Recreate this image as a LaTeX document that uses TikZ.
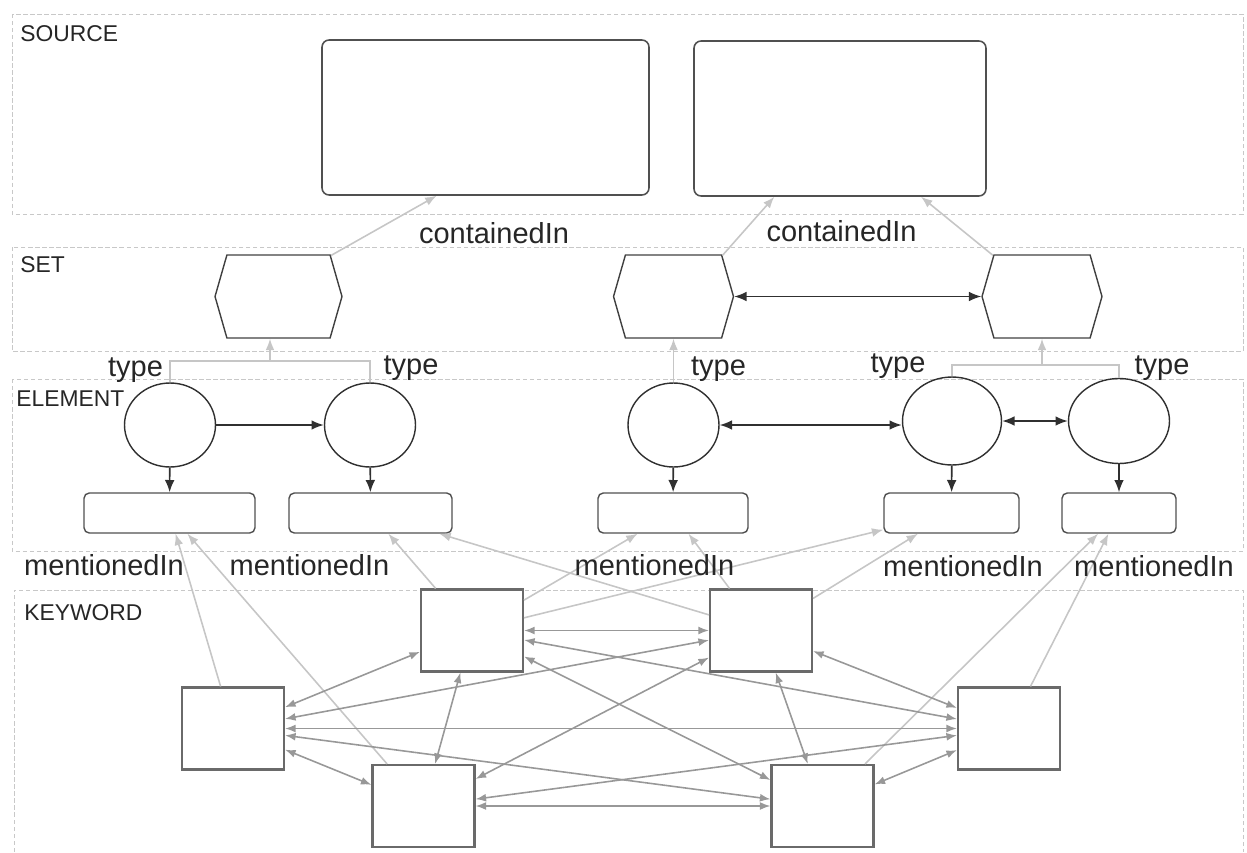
\documentclass[tikz,border=0pt]{standalone}
\usepackage{fontspec}
\setmainfont{Liberation Sans}
\usetikzlibrary{shapes.geometric,shapes.symbols,arrows.meta}

\definecolor{layerline}{HTML}{C8C8C8}
\definecolor{srcline}{HTML}{505050}
\definecolor{setline}{HTML}{404040}
\definecolor{elemline}{HTML}{303030}
\definecolor{kwline}{HTML}{6A6A6A}
\definecolor{meshline}{HTML}{989898}
\definecolor{faintline}{HTML}{C6C6C6}
\definecolor{labeltext}{HTML}{262626}

\begin{document}
\begin{tikzpicture}[x=0.02cm, y=-0.02cm,
	every node/.style={inner sep=0pt},
	layer/.style={draw=layerline, dash pattern=on 2.5pt off 1.5pt, line width=0.5pt},
	layername/.style={anchor=west, text=labeltext, font=\fontsize{13}{15}\selectfont},
	rel/.style={text=labeltext, font=\fontsize{16.5}{19}\selectfont},
	sourcebox/.style={draw=srcline, rounded corners=4pt, line width=0.9pt, minimum height=3.1cm},
	setbox/.style={signal, signal to=west and east, signal pointer angle=148, draw=setline, line width=0.8pt, minimum width=2.4cm, minimum height=1.66cm},
	elem/.style={ellipse, draw=elemline, line width=0.8pt, minimum width=1.82cm, minimum height=1.68cm},
	mentionbox/.style={draw=srcline, rounded corners=3pt, line width=0.8pt, minimum height=0.8cm},
	kw/.style={draw=kwline, line width=1.2pt, minimum width=2.04cm, minimum height=1.64cm},
	hard/.style={draw=elemline, line width=0.9pt},
	hardto/.style={hard, -{Latex[length=7pt,width=5.5pt]}},
	hardboth/.style={hard, {Latex[length=7pt,width=5.5pt]}-{Latex[length=7pt,width=5.5pt]}},
	mesh/.style={draw=meshline, line width=0.9pt, {Latex[length=6pt,width=4.5pt]}-{Latex[length=6pt,width=4.5pt]}},
	faint/.style={draw=faintline, line width=0.9pt},
	faintto/.style={faint, -{Latex[length=6.5pt,width=5pt]}},
]
	\useasboundingbox (0,0) rectangle (1247,852);

	% layers
	\draw[layer] (12,14) rectangle (1243,214);
	\draw[layer] (12,247) rectangle (1243,351);
	\draw[layer] (12,379) rectangle (1243,551);
	\draw[layer] (14,852) |- (1243,590) -- (1243,852);
	\path
		(20,33.5) node[layername] (lsource) {SOURCE}
		(20,265) node[layername] (lset) {SET}
		(16,398.5) node[layername] (lelement) {ELEMENT}
		(24,612.5) node[layername] (lkeyword) {KEYWORD}
	;

	\path
		(485.5,117.5) node[sourcebox, minimum width=6.54cm] (s1) {}
		(840,118.5) node[sourcebox, minimum width=5.84cm] (s2) {}
		(278.5,296.5) node[setbox, minimum width=2.54cm] (h1) {}
		(673.5,296.5) node[setbox] (h2) {}
		(1042,296.5) node[setbox] (h3) {}
		(170,425) node[elem] (e1) {}
		(370,425) node[elem] (e2) {}
		(673.5,425) node[elem] (e3) {}
		(952,421) node[elem, minimum width=1.98cm, minimum height=1.76cm] (e4) {}
		(1119,421) node[elem, minimum width=2.02cm, minimum height=1.7cm] (e5) {}
		(169.5,513) node[mentionbox, minimum width=3.42cm] (r1) {}
		(370.5,513) node[mentionbox, minimum width=3.26cm] (r2) {}
		(673,513) node[mentionbox, minimum width=3cm] (r3) {}
		(951.5,513) node[mentionbox, minimum width=2.7cm] (r4) {}
		(1119,513) node[mentionbox, minimum width=2.28cm] (r5) {}
		(233,728.5) node[kw] (k1) {}
		(472,630.5) node[kw] (k2) {}
		(423.5,806) node[kw] (k3) {}
		(761,630.5) node[kw] (k4) {}
		(822.5,806) node[kw] (k5) {}
		(1009,728.5) node[kw] (k6) {}
		(270,361) coordinate (t1)
		(1042,365) coordinate (t2)
	;

	% containedIn
	\draw[faintto] (h1.38) -- (s1.238);
	\draw[faintto] (h2.40) -- (s2.230);
	\draw[faintto] (h3.140) -- (s2.316);
	\path
		(494,233) node[rel] (c1) {containedIn}
		(841.5,231) node[rel] (c2) {containedIn}
	;

	% type
	\draw[faint] (e1.north) |- (t1) -| (e2.north);
	\draw[faintto] (t1) -- (t1 |- h1.south);
	\draw[faintto] (e3.north) -- (h2.south);
	\draw[faint] (e4.north) |- (t2) -| (e5.north);
	\draw[faintto] (t2) -- (h3.south);
	\path
		(135.5,370) node[rel] (y1) {type}
		(411,368) node[rel] (y2) {type}
		(718.5,369.5) node[rel] (y3) {type}
		(898,366.5) node[rel] (y4) {type}
		(1162,368) node[rel] (y5) {type}
	;

	% element links
	\draw[hardto] (e1) -- (e2);
	\draw[hardboth] (e3.east) -- (e3.east -| e4.west);
	\draw[hardboth] (e4) -- (e5);
	\draw[hardboth] (h2) -- (h3);
	\draw[hardto] (e1) -- (r1);
	\draw[hardto] (e2) -- (r2);
	\draw[hardto] (e3) -- (r3);
	\draw[hardto] (e4) -- (r4);
	\draw[hardto] (e5) -- (r5);

	% mentionedIn
	\draw[faintto] (k1) -- (r1);
	\draw[faintto] (k3) -- (r1);
	\draw[faintto] (k2) -- (r2);
	\draw[faintto] (k4) -- (r2);
	\draw[faintto] (k2) -- (r3);
	\draw[faintto] (k4) -- (r3);
	\draw[faintto] (k2) -- (r4);
	\draw[faintto] (k4) -- (r4);
	\draw[faintto] (k5) -- (r5);
	\draw[faintto] (k6) -- (r5);
	\path
		(104,565) node[rel] (m1) {mentionedIn}
		(309.5,565) node[rel] (m2) {mentionedIn}
		(654.5,565) node[rel] (m3) {mentionedIn}
		(963,566.5) node[rel] (m4) {mentionedIn}
		(1154,566.5) node[rel] (m5) {mentionedIn}
	;

	% keyword mesh
	\draw[mesh] (k1) -- (k2);
	\draw[mesh] (k1) -- (k3);
	\draw[mesh] (k1) -- (k4);
	\draw[mesh] (k1) -- (k5);
	\draw[mesh] (k1) -- (k6);
	\draw[mesh] (k2) -- (k3);
	\draw[mesh] (k2) -- (k4);
	\draw[mesh] (k2) -- (k5);
	\draw[mesh] (k2) -- (k6);
	\draw[mesh] (k3) -- (k4);
	\draw[mesh] (k3) -- (k5);
	\draw[mesh] (k3) -- (k6);
	\draw[mesh] (k4) -- (k5);
	\draw[mesh] (k4) -- (k6);
	\draw[mesh] (k5) -- (k6);
\end{tikzpicture}
\end{document}
